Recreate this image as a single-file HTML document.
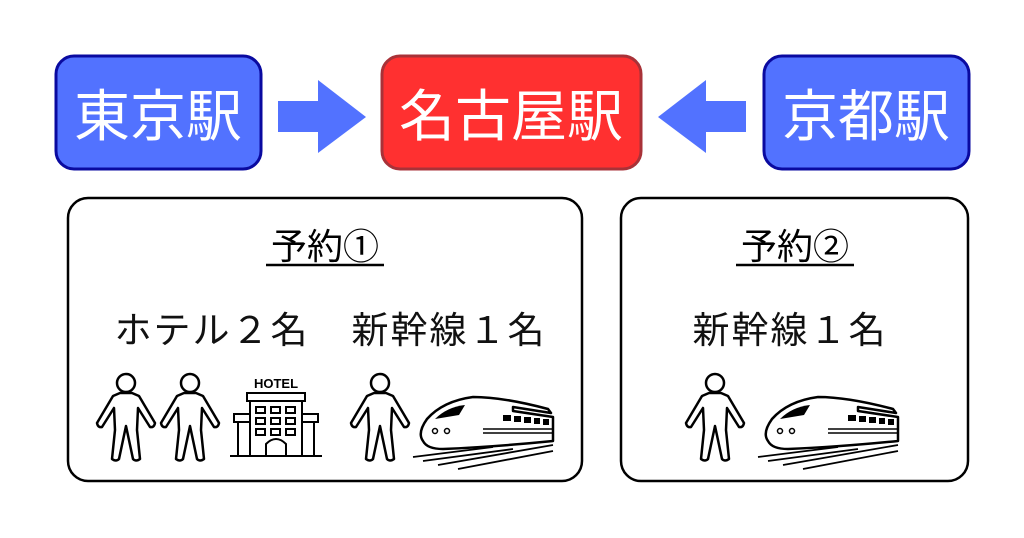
<!DOCTYPE html>
<html><head><meta charset="utf-8"><style>
html,body{margin:0;padding:0;background:#fff;}
svg{display:block}
text{font-family:"Liberation Sans","Noto Sans CJK JP",sans-serif;}
</style></head><body>
<svg width="1024" height="538" viewBox="0 0 1024 538" xmlns="http://www.w3.org/2000/svg">
<defs>
<g id="person">
<circle cx="0" cy="9" r="9" fill="#fff" stroke="#000" stroke-width="2.5"/>
<path d="M-6,19 L-13,22 L-29,49 Q-28,54 -24,53 L-12,34 L-11,56 L-14,85 Q-10,88 -7,85 L0,52 L7,85 Q10,88 14,85 L11,56 L12,34 L24,53 Q28,54 29,49 L13,22 L6,19 Z" fill="#fff" stroke="#000" stroke-width="2.5" stroke-linejoin="round"/>
</g>
<g id="train">
<path d="M10,48 Q4,40 14,26 Q30,8 60,4 Q90,4 135,16 L138,20 L100,14 L100,18 L140,24 L140,48 Q80,54 30,56 Q14,56 10,48 Z" fill="#fff" stroke="#000" stroke-width="2.5" stroke-linejoin="round"/>
<path d="M22,26 Q34,14 52,12 L46,22 Z" fill="#000"/>
<rect x="90" y="22" width="8" height="6" fill="#000"/><rect x="101" y="23" width="7" height="6" fill="#000"/><rect x="111" y="24" width="7" height="6" fill="#000"/><rect x="121" y="25" width="6" height="6" fill="#000"/><rect x="130" y="26" width="6" height="6" fill="#000"/>
<circle cx="22" cy="38" r="2.5" fill="none" stroke="#000" stroke-width="1.5"/><circle cx="34" cy="38" r="2.5" fill="none" stroke="#000" stroke-width="1.5"/>
<path d="M70,36 L140,36 M70,40 L140,40" stroke="#000" stroke-width="1.5"/>
<path d="M0,64 L80,54 M10,68 L100,56 M25,72 L140,52 M45,76 L140,58" stroke="#000" stroke-width="1.8"/>
</g>
</defs>
<rect x="56" y="56" width="205" height="113" rx="18" fill="#5272ff" stroke="#0a0aa0" stroke-width="3"/>
<text x="158" y="136" font-size="56" fill="#fff" text-anchor="middle">東京駅</text>
<rect x="382" y="56" width="259" height="113" rx="18" fill="#ff3030" stroke="#a83238" stroke-width="3"/>
<text x="511" y="136" font-size="56" fill="#fff" text-anchor="middle">名古屋駅</text>
<rect x="764" y="56" width="205" height="113" rx="18" fill="#5272ff" stroke="#0a0aa0" stroke-width="3"/>
<text x="866" y="136" font-size="56" fill="#fff" text-anchor="middle">京都駅</text>
<polygon points="278,101 318,101 318,80 366,117 318,153 318,132 278,132" fill="#5272ff"/>
<polygon points="746,101 706,101 706,80 658,117 706,153 706,132 746,132" fill="#5272ff"/>
<rect x="68" y="198" width="514" height="283" rx="20" fill="#fff" stroke="#000" stroke-width="2.5"/>
<rect x="621" y="198" width="347" height="283" rx="20" fill="#fff" stroke="#000" stroke-width="2.5"/>
<text x="325" y="259" font-size="36" text-anchor="middle" fill="#000">予約①</text>
<line x1="266" y1="265" x2="384" y2="265" stroke="#000" stroke-width="2.5"/>
<text x="795" y="259" font-size="36" text-anchor="middle" fill="#000">予約②</text>
<line x1="736" y1="265" x2="854" y2="265" stroke="#000" stroke-width="2.5"/>
<text x="212" y="343" font-size="37" text-anchor="middle" letter-spacing="2" fill="#111">ホテル２名</text>
<text x="449" y="343" font-size="37" text-anchor="middle" letter-spacing="2" fill="#111">新幹線１名</text>
<text x="790" y="343" font-size="37" text-anchor="middle" letter-spacing="2" fill="#111">新幹線１名</text>
<use href="#person" x="126" y="374"/>
<use href="#person" x="190" y="374"/>
<use href="#person" x="380" y="374"/>
<use href="#person" x="715" y="374"/>
<g fill="#fff" stroke="#000" stroke-width="2">
<text x="276" y="388" font-size="13" text-anchor="middle" fill="#000" stroke="none" font-weight="bold">HOTEL</text>
<rect x="247" y="393" width="58" height="8"/>
<rect x="234" y="414" width="84" height="8"/>
<rect x="238" y="422" width="76" height="34"/>
<rect x="250" y="401" width="52" height="55"/>
<path d="M266,456 L266,444 Q276,434 286,444 L286,456" />
<line x1="230" y1="456" x2="322" y2="456"/>
<rect x="256" y="407" width="9" height="6"/><rect x="271" y="407" width="9" height="6"/><rect x="286" y="407" width="9" height="6"/>
<rect x="256" y="418" width="9" height="6"/><rect x="271" y="418" width="9" height="6"/><rect x="286" y="418" width="9" height="6"/>
<rect x="256" y="429" width="9" height="6"/><rect x="271" y="429" width="9" height="6"/><rect x="286" y="429" width="9" height="6"/>
</g>
<use href="#train" x="413" y="393"/>
<use href="#train" x="758" y="393"/>
</svg>
</body></html>
